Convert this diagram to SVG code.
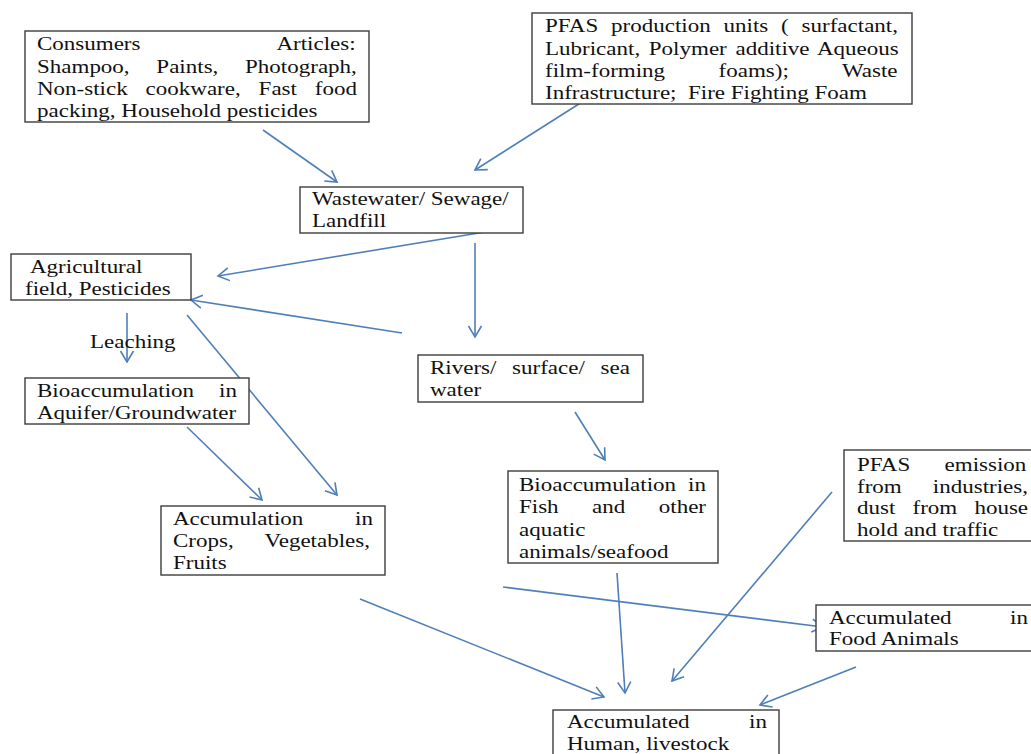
<svg xmlns="http://www.w3.org/2000/svg" width="1031" height="754" viewBox="0 0 1031 754">
<defs>
<style>
.box{fill:#fff;stroke:#3c3c3c;stroke-width:1.4}
.t{font-family:"Liberation Serif","Times New Roman",serif;font-size:19.5px;fill:#111}
.c{stroke:#4f7fb8;stroke-width:1.6;fill:none;marker-end:url(#ah)}
</style>
<marker id="ah" markerUnits="userSpaceOnUse" markerWidth="30" markerHeight="30" refX="0" refY="0" viewBox="-15 -15 30 30" orient="auto" overflow="visible">
<path d="M-11,-6.5 L0,0 L-11,6.5" fill="none" stroke="#4f7fb8" stroke-width="1.6"/>
</marker>
</defs>
<rect width="1031" height="754" fill="#fff"/>
<g id="connectors">
<line class="c" x1="263" y1="130" x2="337" y2="182"/>
<line class="c" x1="582" y1="102" x2="475" y2="170"/>
<line class="c" x1="503" y1="229" x2="218" y2="276"/>
<line class="c" x1="475" y1="243" x2="475" y2="337"/>
<line class="c" x1="402" y1="333" x2="191" y2="300"/>
<line class="c" x1="127" y1="313" x2="127" y2="362"/>
<line class="c" x1="187" y1="315" x2="337" y2="495"/>
<line class="c" x1="187" y1="427" x2="262" y2="500"/>
<line class="c" x1="575" y1="412" x2="605" y2="460"/>
<line class="c" x1="617" y1="573" x2="625" y2="693"/>
<line class="c" x1="360" y1="599" x2="604" y2="697"/>
<line class="c" x1="503" y1="587" x2="823" y2="627"/>
<line class="c" x1="832" y1="492" x2="672" y2="681"/>
<line class="c" x1="856" y1="667" x2="760" y2="705"/>
</g>
<g id="consumers">
<rect class="box" x="25" y="31" width="344" height="91"/>
<text class="t" transform="translate(37 50) scale(1.18 1)" style="word-spacing:111.4px">Consumers Articles:</text>
<text class="t" transform="translate(37 72.5) scale(1.18 1)" style="word-spacing:17.8px">Shampoo, Paints, Photograph,</text>
<text class="t" transform="translate(37 95) scale(1.18 1)" style="word-spacing:10.3px">Non-stick cookware, Fast food</text>
<text class="t" transform="translate(37 117) scale(1.18 1)">packing, Household pesticides</text>
</g>
<g id="pfas-production">
<rect class="box" x="532" y="13" width="380" height="91"/>
<text class="t" transform="translate(545 32) scale(1.18 1)" style="word-spacing:6px">PFAS production units ( surfactant,</text>
<text class="t" transform="translate(545 54.5) scale(1.18 1)" style="word-spacing:2.5px">Lubricant, Polymer additive Aqueous</text>
<text class="t" transform="translate(545 77) scale(1.18 1)" style="word-spacing:40.5px">film-forming foams); Waste</text>
<text class="t" transform="translate(545 99) scale(1.18 1)">Infrastructure;&#160; Fire Fighting Foam</text>
</g>
<g id="wastewater">
<rect class="box" x="300" y="187" width="223" height="46"/>
<text class="t" transform="translate(312 205) scale(1.18 1)">Wastewater/ Sewage/</text>
<text class="t" transform="translate(312 227) scale(1.18 1)">Landfill</text>
</g>
<g id="agricultural">
<rect class="box" x="11" y="254" width="180" height="46"/>
<text class="t" transform="translate(30 273) scale(1.18 1)">Agricultural</text>
<text class="t" transform="translate(25 295) scale(1.18 1)">field, Pesticides</text>
</g>
<g id="leaching-label">
<text class="t" transform="translate(90 348) scale(1.18 1)">Leaching</text>
</g>
<g id="aquifer">
<rect class="box" x="25" y="378" width="224" height="46"/>
<text class="t" transform="translate(37 397) scale(1.18 1)" style="word-spacing:16.3px">Bioaccumulation in</text>
<text class="t" transform="translate(37 419) scale(1.18 1)">Aquifer/Groundwater</text>
</g>
<g id="rivers">
<rect class="box" x="418" y="355" width="225" height="47"/>
<text class="t" transform="translate(430 374) scale(1.18 1)" style="word-spacing:8.4px">Rivers/ surface/ sea</text>
<text class="t" transform="translate(430 396) scale(1.18 1)">water</text>
</g>
<g id="fish">
<rect class="box" x="508" y="471" width="210" height="92"/>
<text class="t" transform="translate(519 491) scale(1.18 1)" style="word-spacing:5.3px">Bioaccumulation in</text>
<text class="t" transform="translate(519 513) scale(1.18 1)" style="word-spacing:23.5px">Fish and other</text>
<text class="t" transform="translate(519 535.5) scale(1.18 1)">aquatic</text>
<text class="t" transform="translate(519 558) scale(1.18 1)">animals/seafood</text>
</g>
<g id="pfas-emission">
<rect class="box" x="844" y="450" width="200" height="91"/>
<text class="t" transform="translate(857 471) scale(1.18 1)" style="word-spacing:24.2px">PFAS emission</text>
<text class="t" transform="translate(857 492.5) scale(1.18 1)" style="word-spacing:21.5px">from industries,</text>
<text class="t" transform="translate(857 514) scale(1.18 1)" style="word-spacing:9.7px">dust from house</text>
<text class="t" transform="translate(857 535.5) scale(1.18 1)">hold and traffic</text>
</g>
<g id="crops">
<rect class="box" x="161" y="506" width="224" height="69"/>
<text class="t" transform="translate(173 525) scale(1.18 1)" style="word-spacing:39px">Accumulation in</text>
<text class="t" transform="translate(173 547) scale(1.18 1)" style="word-spacing:21.7px">Crops, Vegetables,</text>
<text class="t" transform="translate(173 569) scale(1.18 1)">Fruits</text>
</g>
<g id="food-animals">
<rect class="box" x="816" y="605" width="230" height="46"/>
<text class="t" transform="translate(829 624) scale(1.18 1)" style="word-spacing:44.7px">Accumulated in</text>
<text class="t" transform="translate(829 645) scale(1.18 1)">Food Animals</text>
</g>
<g id="human">
<rect class="box" x="553" y="710" width="226" height="60"/>
<text class="t" transform="translate(567 728) scale(1.18 1)" style="word-spacing:45.5px">Accumulated in</text>
<text class="t" transform="translate(567 750) scale(1.18 1)">Human, livestock</text>
</g>
</svg>
